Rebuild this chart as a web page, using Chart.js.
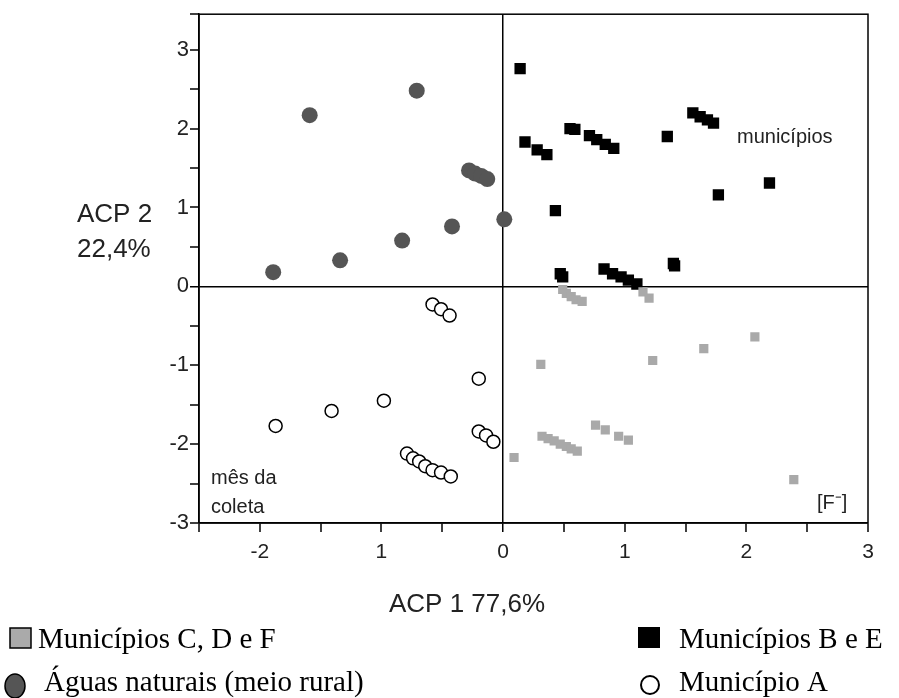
<!DOCTYPE html>
<html>
<head>
<meta charset="utf-8">
<script src="https://cdn.jsdelivr.net/npm/chart.js@4/dist/chart.umd.min.js"></script>
<style>
  html, body { margin: 0; padding: 0; background: #fff; }
  #wrap { width: 899px; height: 698px; }
</style>
</head>
<body>
<div id="wrap"><canvas id="acpChart" width="899" height="698"></canvas></div>
<script>
// Scores on ACP 1 (x) and ACP 2 (y)
const municipiosCDF = [
  [0.49, -0.04], [0.52, -0.09], [0.56, -0.13], [0.60, -0.17], [0.65, -0.19],
  [1.15, -0.07], [1.20, -0.15],
  [0.31, -0.99], [1.23, -0.94], [1.65, -0.79], [2.07, -0.64],
  [0.76, -1.76], [0.84, -1.82], [0.95, -1.90], [1.03, -1.95],
  [0.32, -1.90], [0.37, -1.93], [0.42, -1.96], [0.47, -2.00], [0.52, -2.03], [0.56, -2.06], [0.61, -2.09],
  [0.09, -2.17], [2.39, -2.45]
];
const municipiosBE = [
  [0.14, 2.76], [0.18, 1.83], [0.28, 1.73], [0.36, 1.67], [0.43, 0.96],
  [0.47, 0.16], [0.49, 0.12], [0.55, 2.00], [0.59, 1.99],
  [0.71, 1.91], [0.77, 1.86], [0.84, 1.80], [0.91, 1.75],
  [0.83, 0.22], [0.90, 0.16], [0.97, 0.12], [1.03, 0.08], [1.10, 0.03],
  [1.35, 1.90], [1.40, 0.29], [1.41, 0.26],
  [1.56, 2.20], [1.62, 2.15], [1.68, 2.11], [1.73, 2.07],
  [1.77, 1.16], [2.19, 1.31]
];
const aguasNaturais = [
  [-1.89, 0.18], [-1.59, 2.17], [-1.34, 0.33], [-0.83, 0.58], [-0.71, 2.48],
  [-0.42, 0.76], [-0.28, 1.47], [-0.23, 1.43], [-0.18, 1.40], [-0.13, 1.36], [0.01, 0.85]
];
const municipioA = [
  [-0.58, -0.23], [-0.51, -0.29], [-0.44, -0.37],
  [-1.87, -1.77], [-1.41, -1.58], [-0.98, -1.45], [-0.20, -1.17],
  [-0.20, -1.84], [-0.14, -1.89], [-0.08, -1.97],
  [-0.79, -2.12], [-0.74, -2.18], [-0.69, -2.22], [-0.64, -2.28], [-0.58, -2.33], [-0.51, -2.36], [-0.43, -2.41]
];

const xTicks = [-2, -1, 0, 1, 2, 3];
const xTickLabels = ['-2', '1', '0', '1', '2', '3'];
const yTicks = [-3, -2, -1, 0, 1, 2, 3];
const yTickLabels = ['-3', '-2', '-1', '0', '1', '2', '3'];

const legendLabels = ['Municípios C, D e F', 'Municípios B e E', 'Águas naturais (meio rural)', 'Município A'];

function toPoints(arr) {
  return arr.map(p => ({ x: p[0], y: p[1] }));
}

const sans = '"Liberation Sans", Arial, sans-serif';
const serif = '"Liberation Serif", "Times New Roman", serif';

// frame, axis titles, notes and the legend under the chart
const decorPlugin = {
  id: 'decor',
  afterDraw(chart) {
    const ctx = chart.ctx;
    const a = chart.chartArea;
    ctx.save();
    ctx.strokeStyle = '#000';
    ctx.lineWidth = 1.5;
    ctx.strokeRect(a.left, a.top, a.right - a.left, a.bottom - a.top);

    ctx.fillStyle = '#222';
    ctx.textBaseline = 'middle';
    ctx.textAlign = 'left';
    ctx.font = '26px ' + sans;
    ctx.fillText('ACP 2', 77, 215);
    ctx.fillText('22,4%', 77, 250);
    ctx.textAlign = 'center';
    ctx.fillText('ACP 1 77,6%', 467, 605);

    ctx.textAlign = 'left';
    ctx.font = '20px ' + sans;
    ctx.fillText('municípios', 737, 137);
    ctx.fillText('mês da', 211, 478);
    ctx.fillText('coleta', 211, 507);
    ctx.fillText('[F\u207B]', 817, 503);

    // legend
    ctx.fillStyle = '#000';
    ctx.textBaseline = 'alphabetic';
    ctx.font = '29px ' + serif;
    ctx.fillText(legendLabels[0], 38, 648);
    ctx.fillText(legendLabels[2], 44, 691);
    ctx.fillText(legendLabels[1], 679, 648);
    ctx.fillText(legendLabels[3], 679, 691);

    ctx.lineWidth = 1.5;
    ctx.fillStyle = '#aaaaaa';
    ctx.fillRect(10, 628, 21, 20);
    ctx.strokeRect(10, 628, 21, 20);

    ctx.fillStyle = '#000';
    ctx.fillRect(638, 627, 22, 21);

    ctx.beginPath();
    ctx.ellipse(15, 686, 10, 12, 0, 0, Math.PI * 2);
    ctx.fillStyle = '#555555';
    ctx.fill();
    ctx.stroke();

    ctx.beginPath();
    ctx.arc(650, 685, 9, 0, Math.PI * 2);
    ctx.fillStyle = '#fff';
    ctx.fill();
    ctx.lineWidth = 2;
    ctx.stroke();
    ctx.restore();
  }
};

function axisGrid() {
  return {
    display: true,
    drawOnChartArea: true,
    drawTicks: true,
    tickLength: 9,
    tickColor: '#000',
    tickWidth: 1.5,
    color: c => (c.tick && c.tick.value === 0 ? '#000' : 'rgba(0,0,0,0)'),
    lineWidth: c => (c.tick && c.tick.value === 0 ? 1.5 : 0)
  };
}

function labelFor(values, labels) {
  return function (v) {
    const i = values.indexOf(Math.round(v * 100) / 100);
    return i >= 0 ? labels[i] : '';
  };
}

const ctx = document.getElementById('acpChart').getContext('2d');
new Chart(ctx, {
  type: 'scatter',
  data: {
    datasets: [
      {
        label: legendLabels[0],
        data: toPoints(municipiosCDF),
        pointStyle: 'rect',
        pointRadius: 6.5,
        backgroundColor: '#a9a9a9',
        borderColor: '#a9a9a9',
        borderWidth: 0
      },
      {
        label: legendLabels[1],
        data: toPoints(municipiosBE),
        pointStyle: 'rect',
        pointRadius: 8,
        backgroundColor: '#000',
        borderColor: '#000',
        borderWidth: 0
      },
      {
        label: legendLabels[2],
        data: toPoints(aguasNaturais),
        pointStyle: 'circle',
        pointRadius: 8,
        backgroundColor: '#555555',
        borderColor: '#555555',
        borderWidth: 0
      },
      {
        label: legendLabels[3],
        data: toPoints(municipioA),
        pointStyle: 'circle',
        pointRadius: 6.5,
        backgroundColor: '#fff',
        borderColor: '#000',
        borderWidth: 1.5
      }
    ]
  },
  options: {
    responsive: false,
    animation: false,
    layout: { padding: { left: 0, right: 31, top: 12, bottom: 0 } },
    plugins: {
      legend: { display: false },
      tooltip: { enabled: false }
    },
    scales: {
      x: {
        type: 'linear',
        min: -2.5,
        max: 3,
        afterFit: s => { s.height = 175; },
        border: { display: true, color: '#000', width: 1.5 },
        grid: axisGrid(),
        ticks: {
          stepSize: 0.5,
          autoSkip: false,
          maxRotation: 0,
          padding: 8,
          color: '#222',
          font: { family: sans, size: 21 },
          callback: labelFor(xTicks, xTickLabels)
        }
      },
      y: {
        type: 'linear',
        min: -3,
        max: 3.45,
        afterFit: s => { s.width = 199; },
        border: { display: true, color: '#000', width: 1.5 },
        grid: axisGrid(),
        ticks: {
          stepSize: 0.5,
          autoSkip: false,
          padding: 1,
          color: '#222',
          font: { family: sans, size: 22 },
          callback: labelFor(yTicks, yTickLabels)
        }
      }
    }
  },
  plugins: [decorPlugin]
});
</script>
</body>
</html>
